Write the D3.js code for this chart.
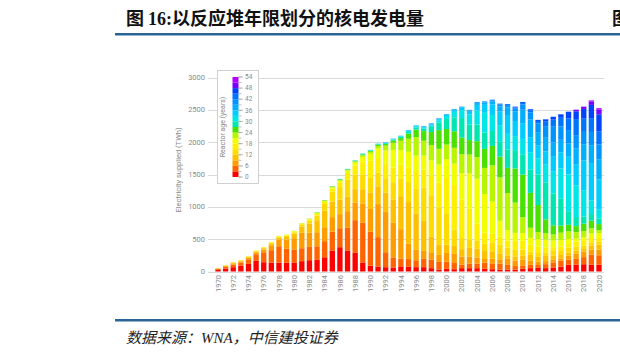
<!DOCTYPE html>
<html><head><meta charset="utf-8">
<script src="https://cdn.jsdelivr.net/npm/d3@7"></script>
<style>body{margin:0;background:#fff;} svg{display:block;}</style>
</head><body>
<svg id="c" width="620" height="357"></svg>
<script>
const years = [1970,1971,1972,1973,1974,1975,1976,1977,1978,1979,1980,1981,1982,1983,1984,1985,1986,1987,1988,1989,1990,1991,1992,1993,1994,1995,1996,1997,1998,1999,2000,2001,2002,2003,2004,2005,2006,2007,2008,2009,2010,2011,2012,2013,2014,2015,2016,2017,2018,2019,2020];
const ageBins = ["0-3","3-6","6-9","9-12","12-15","15-18","18-21","21-24","24-27","27-30","30-33","33-36","36-39","39-42","42-45","45-48","48-51","51-54"];
// TWh by reactor age band, one array per band, 1970..2020
const age0_3 = [26,46,67,93,118,165,144,139,139,134, 134,160,175,180,220,325,376,325,289,139, 93,77,67,62,80,77,67,67,52,31, 41,36,52,52,52,41,36,31,31,26, 41,52,62,52,62,77,103,103,113,103, 103];
const age3_6 = [13,24,41,43,70,101,153,191,251,219, 206,200,205,210,249,292,293,352,505,618, 521,454,231,154,121,115,107,128,132,117, 112,95,57,68,67,95,90,93,72,58, 54,51,38,62,79,89,79,93,109,158, 148];
const age6_9 = [7,13,18,20,23,30,43,75,102,141, 175,238,220,218,216,224,218,256,272,296, 353,511,624,537,454,238,161,123,115,109, 134,141,123,112,96,57,71,64,92,84, 91,68,52,47,47,37,62,78,88,80, 89];
const age9_12 = [4,8,10,10,12,14,20,24,30,40, 68,97,142,185,257,240,226,222,208,220, 257,275,299,363,510,644,562,462,238,163, 129,123,114,133,143,123,115,93,55,66, 63,86,75,79,62,52,47,47,37,63, 75];
const age12_15 = [2,5,6,7,8,8,10,13,14,18, 22,29,40,72,104,155,192,264,224,229, 223,211,222,264,275,309,380,519,643,569, 484,255,171,128,124,114,138,137,118,109, 91,51,59,55,79,75,79,62,51,48, 44];
const age15_18 = [0,2,2,3,5,5,7,8,8,9, 12,13,18,24,31,43,75,107,145,194, 265,226,231,229,210,230,276,279,308,385, 545,688,598,482,257,171,133,119,109,130, 135,111,97,79,47,59,55,78,74,80, 59];
const age18_21 = [0,0,0,0,2,2,3,5,5,6, 7,7,9,13,14,20,24,32,40,76, 107,146,196,272,226,238,240,214,229,280, 293,330,405,542,696,597,498,248,164,125, 118,103,116,117,102,96,79,47,58,55, 75];
const age21_24 = [0,0,0,0,0,0,0,2,2,3, 4,4,6,8,8,10,13,14,19,25, 32,41,76,111,146,202,285,230,238,243, 225,245,294,292,333,404,560,670,573,468, 244,154,111,102,94,115,117,101,95,80, 44];
const age24_27 = [0,0,0,0,0,0,0,0,0,0, 1,1,3,5,5,7,8,8,9,13, 14,19,25,33,41,79,116,149,202,289, 241,255,256,223,248,294,301,321,388,527, 661,539,418,212,141,111,101,93,114,118, 96];
const age27_30 = [0,0,0,0,0,0,0,0,0,0, 0,0,0,2,2,3,5,5,6,8, 8,9,13,15,19,26,35,42,79,117, 156,216,303,240,257,255,231,239,282,284, 316,365,471,573,494,415,210,140,109,103, 89];
const age30_33 = [0,0,0,0,0,0,0,0,0,0, 0,0,0,0,0,0,2,2,3,5, 5,6,8,8,9,14,16,19,26,35, 44,84,123,155,218,303,248,248,245,217, 236,265,253,274,335,467,569,488,410,213, 133];
const age33_36 = [0,0,0,0,0,0,0,0,0,0, 0,0,0,0,0,0,0,0,0,2, 2,3,5,5,6,9,9,10,14,16, 20,27,37,43,85,123,160,210,291,233, 244,231,194,204,243,251,273,330,462,576, 466];
const age36_39 = [0,0,0,0,0,0,0,0,0,0, 0,0,0,0,0,0,0,0,0,0, 0,0,2,2,3,5,5,6,9,9, 10,15,17,20,28,37,45,82,118,151, 207,274,209,212,211,192,203,240,249,276, 315];
const age39_42 = [0,0,0,0,0,0,0,0,0,0, 0,0,0,0,0,0,0,0,0,0, 0,0,0,0,0,2,2,3,5,5, 0,0,0,10,15,17,21,27,35,42, 81,111,135,180,251,207,210,209,190,205, 229];
const age42_45 = [0,0,0,0,0,0,0,0,0,0, 0,0,0,0,0,0,0,0,0,0, 0,0,0,0,0,0,0,0,2,2, 0,0,0,0,0,0,10,14,16,19, 26,33,38,70,102,134,179,248,204,213, 199];
const age45_48 = [0,0,0,0,0,0,0,0,0,0, 0,0,0,0,0,0,0,0,0,0, 0,0,0,0,0,0,0,0,0,0, 0,0,0,0,0,0,0,0,0,10, 14,15,17,35,44,54,105,120,151,205, 267];
const age48_51 = [0,0,0,0,0,0,0,0,0,0, 0,0,0,0,0,0,0,0,0,0, 0,0,0,0,0,0,0,0,0,0, 0,0,0,0,0,0,0,0,0,0, 0,0,0,0,0,0,0,25,35,50, 70];
const age51_54 = [0,0,0,0,0,0,0,0,0,0, 0,0,0,0,0,0,0,0,0,0, 0,0,0,0,0,0,0,0,0,0, 0,0,0,0,0,0,0,0,0,0, 0,0,0,0,0,0,0,0,0,20, 25];
const series = [age0_3,age3_6,age6_9,age9_12,age12_15,age15_18,age18_21,age21_24,age24_27,age27_30,age30_33,age33_36,age36_39,age39_42,age42_45,age45_48,age48_51,age51_54];
const colors = ["#ff0000","#ff6400","#ff9c00","#ffc000","#ffdc00","#fff000","#f2ff00","#b8f500","#4ce000","#00e6b0","#00e6e6","#00ccff","#00b0ff","#0094ff","#0074ff","#0044ff","#7a00ff","#b400ff"];
const yTicks = [0,500,1000,1500,2000,2500,3000];
const xTickYears = [1970,1972,1974,1976,1978,1980,1982,1984,1986,1988,1990,1992,1994,1996,1998,2000,2002,2004,2006,2008,2010,2012,2014,2016,2018,2020];
const legendTicks = [0,6,12,18,24,30,36,42,48,54];
const legendMinor = [0,3,6,9,12,15,18,21,24,27,30,33,36,39,42,45,48,51,54];

const svg = d3.select("#c");
const grey = "#8a8a8a";
const cjk = "'Noto Sans CJK SC', sans-serif";

// header
const t = svg.append("text").attr("x",126).attr("y",25).attr("font-family",cjk)
  .attr("font-weight","bold").attr("font-size",18).attr("fill","#111");
t.append("tspan").text("图 ");
t.append("tspan").attr("font-family","'Liberation Serif', serif").text("16:");
t.append("tspan").text("以反应堆年限划分的核电发电量");
svg.append("text").attr("x",612).attr("y",25).attr("font-family",cjk)
  .attr("font-weight","bold").attr("font-size",18).attr("fill","#111").text("图");
svg.append("rect").attr("x",115).attr("y",33).attr("width",505).attr("height",2.5).attr("fill","#2a6496");
svg.append("rect").attr("x",115).attr("y",319).attr("width",505).attr("height",2.5).attr("fill","#2a6496");
const f = svg.append("text").attr("x",126).attr("y",343).attr("font-family",cjk)
  .attr("font-style","italic").attr("font-size",15).attr("fill","#222");
f.append("tspan").text("数据来源：");
f.append("tspan").attr("font-family","'Liberation Serif', serif").text("WNA");
f.append("tspan").text("，中信建投证券");

// scales
const x = d3.scaleBand().domain(years).range([213.05, 603.95]).padding(0.3);
const y = d3.scaleLinear().domain([0,3000]).range([271.5, 77.5]);

// grid
const g = svg.append("g");
g.selectAll("line.grid").data(yTicks).join("line")
  .attr("x1",208).attr("x2",604).attr("y1",d=>Math.round(y(d))+0.5).attr("y2",d=>Math.round(y(d))+0.5)
  .attr("stroke","#d9d9d9").attr("stroke-width",1);
g.selectAll("text.yl").data(yTicks).join("text")
  .attr("x",205).attr("y",d=>y(d)).attr("dy","0.35em").attr("text-anchor","end")
  .attr("font-family","Roboto, sans-serif").attr("font-size",7.5).attr("fill",grey).text(d=>d);
svg.append("text").attr("transform","translate(181,170) rotate(-90)").attr("text-anchor","middle")
  .attr("font-family","Roboto, sans-serif").attr("font-size",7.5).attr("fill",grey).text("Electricity supplied (TWh)");

// stacked bars
const table = years.map((yr,i)=>{ const o={year:yr}; series.forEach((s,k)=>o[k]=s[i]); return o; });
const keys = series.map((s,k)=>k);
const stacked = d3.stack().keys(keys)(table);
svg.append("g").selectAll("g").data(stacked).join("g").attr("fill",(d,i)=>colors[i])
  .selectAll("rect").data(d=>d).join("rect")
  .attr("x",d=>x(d.data.year)).attr("width",x.bandwidth())
  .attr("y",d=>y(d[1])).attr("height",d=>Math.max(0,y(d[0])-y(d[1])));

// x labels
svg.append("g").selectAll("text").data(xTickYears).join("text")
  .attr("transform",d=>`translate(${x(d)+x.bandwidth()/2},275) rotate(-90)`)
  .attr("text-anchor","end").attr("dy","0.35em")
  .attr("font-family","Roboto, sans-serif").attr("font-size",7.5).attr("fill",grey).text(d=>d);

// legend
const lg = svg.append("g");
lg.append("rect").attr("x",217.5).attr("y",70.5).attr("width",41).attr("height",113)
  .attr("fill","#fff").attr("stroke","#d0d0d0");
const ly = d3.scaleLinear().domain([0,54]).range([177,77]);
lg.selectAll("rect.b").data(ageBins).join("rect")
  .attr("x",232.5).attr("width",6).attr("y",(d,i)=>ly(3*i+3)).attr("height",(d,i)=>ly(3*i)-ly(3*i+3))
  .attr("fill",(d,i)=>colors[i]);
lg.selectAll("line.m").data(legendMinor).join("line")
  .attr("x1",238.5).attr("x2",241.5).attr("y1",d=>ly(d)).attr("y2",d=>ly(d)).attr("stroke","#999").attr("stroke-width",0.6);
lg.selectAll("line.M").data(legendTicks).join("line")
  .attr("x1",238.5).attr("x2",243).attr("y1",d=>ly(d)).attr("y2",d=>ly(d)).attr("stroke","#999").attr("stroke-width",0.6);
lg.selectAll("text").data(legendTicks).join("text")
  .attr("x",245).attr("y",d=>ly(d)).attr("dy","0.35em").attr("font-family","Roboto, sans-serif")
  .attr("font-size",6.5).attr("fill",grey).text(d=>d);
lg.append("text").attr("transform","translate(225,127) rotate(-90)").attr("text-anchor","middle")
  .attr("font-family","Roboto, sans-serif").attr("font-size",7).attr("fill",grey).text("Reactor age (years)");
</script>
</body></html>
